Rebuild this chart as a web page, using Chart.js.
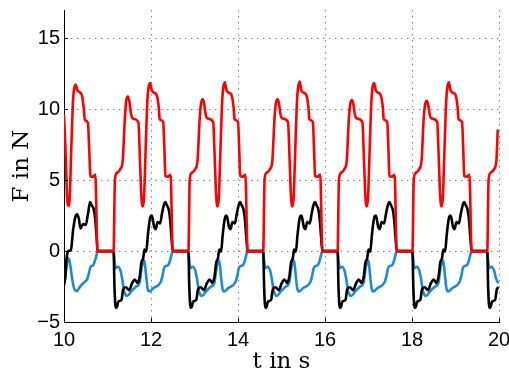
<!DOCTYPE html>
<html>
<head>
<meta charset="utf-8">
<script src="https://cdn.jsdelivr.net/npm/chart.js@4/dist/chart.umd.min.js"></script>
<style>
  html, body { margin: 0; padding: 0; background: #fff; }
  canvas { display: block; }
</style>
</head>
<body>
<canvas id="fuerzas" width="509" height="376"></canvas>
<script>
// Ejes
const xTicks = [10, 12, 14, 16, 18, 20];
const yTicks = [-5, 0, 5, 10, 15];
const xRange = [10, 20];
const yRange = [-5, 17];

// Fuerza roja [t, F]
const redLine = [
  [10.00, 9.6], [10.03, 7.5], [10.06, 4.6], [10.08, 3.4], [10.10, 3.2], [10.13, 3.7], [10.16, 6.5], [10.20, 10.2],
  [10.23, 11.4], [10.27, 11.75], [10.30, 11.4], [10.34, 11.25], [10.41, 11.0], [10.45, 10.2], [10.48, 9.25],
  [10.55, 9.05], [10.58, 7.1], [10.61, 5.25], [10.67, 5.25], [10.72, 5.4], [10.77, 0],
  [11.14, 0], [11.17, 5.0], [11.21, 5.5], [11.30, 5.8], [11.35, 6.4], [11.40, 9.4], [11.43, 10.6], [11.47, 10.9],
  [11.50, 10.6], [11.54, 9.7], [11.58, 9.35], [11.71, 9.1], [11.74, 7.0], [11.77, 4.4], [11.79, 3.4], [11.81, 3.15],
  [11.84, 3.8], [11.87, 6.5], [11.91, 10.2], [11.94, 11.5], [11.98, 11.85], [12.01, 11.4], [12.05, 11.2], [12.13, 11.0],
  [12.18, 10.1], [12.20, 9.3], [12.28, 9.1], [12.31, 7.0], [12.33, 5.3], [12.39, 5.25], [12.45, 5.4], [12.50, 0],
  [12.86, 0], [12.89, 5.0], [12.93, 5.5], [13.02, 5.8], [13.07, 6.4], [13.12, 9.4], [13.15, 10.4], [13.19, 10.7],
  [13.22, 10.45], [13.26, 9.6], [13.30, 9.35], [13.43, 9.1], [13.46, 7.0], [13.49, 4.4], [13.51, 3.4], [13.53, 3.15],
  [13.56, 3.8], [13.59, 6.5], [13.63, 10.2], [13.66, 11.5], [13.70, 11.9], [13.73, 11.4], [13.77, 11.2], [13.85, 11.0],
  [13.90, 10.1], [13.92, 9.3], [14.00, 9.1], [14.03, 7.0], [14.05, 5.3], [14.11, 5.25], [14.17, 5.4], [14.22, 0],
  [14.58, 0], [14.61, 5.0], [14.65, 5.5], [14.74, 5.8], [14.79, 6.4], [14.84, 9.4], [14.87, 10.4], [14.91, 10.7],
  [14.94, 10.45], [14.98, 9.6], [15.02, 9.35], [15.15, 9.1], [15.18, 7.0], [15.21, 4.4], [15.23, 3.4], [15.25, 3.15],
  [15.28, 3.8], [15.31, 6.5], [15.35, 10.2], [15.38, 11.5], [15.42, 11.95], [15.45, 11.4], [15.49, 11.2], [15.57, 11.0],
  [15.62, 10.1], [15.64, 9.3], [15.72, 9.1], [15.75, 7.0], [15.77, 5.3], [15.83, 5.25], [15.89, 5.4], [15.94, 0],
  [16.29, 0], [16.32, 5.0], [16.36, 5.5], [16.45, 5.8], [16.50, 6.4], [16.55, 9.4], [16.58, 10.35], [16.62, 10.65],
  [16.65, 10.4], [16.69, 9.6], [16.73, 9.35], [16.86, 9.1], [16.89, 7.0], [16.92, 4.4], [16.94, 3.4], [16.96, 3.15],
  [16.99, 3.8], [17.02, 6.5], [17.06, 10.2], [17.09, 11.5], [17.13, 11.85], [17.16, 11.4], [17.20, 11.2], [17.28, 11.0],
  [17.33, 10.1], [17.35, 9.3], [17.43, 9.1], [17.46, 7.0], [17.48, 5.3], [17.54, 5.25], [17.60, 5.4], [17.65, 0],
  [18.01, 0], [18.04, 5.0], [18.08, 5.5], [18.17, 5.8], [18.22, 6.4], [18.27, 9.4], [18.30, 10.3], [18.34, 10.6],
  [18.37, 10.35], [18.41, 9.6], [18.45, 9.35], [18.58, 9.1], [18.61, 7.0], [18.64, 4.4], [18.66, 3.4], [18.68, 3.15],
  [18.71, 3.8], [18.74, 6.5], [18.78, 10.2], [18.81, 11.5], [18.85, 11.9], [18.88, 11.4], [18.92, 11.2], [19.00, 11.0],
  [19.05, 10.1], [19.07, 9.3], [19.15, 9.1], [19.18, 7.0], [19.20, 5.3], [19.26, 5.25], [19.32, 5.4], [19.37, 0],
  [19.73, 0], [19.76, 5.0], [19.80, 5.5], [19.89, 5.8], [19.94, 6.4], [19.97, 8.5]
];

// Fuerza negra [t, F]
const blackLine = [
  [10.00, -2.45], [10.03, -1.8], [10.06, -0.5], [10.10, 0], [10.16, 0.1], [10.21, 1.5], [10.26, 2.4], [10.30, 2.6],
  [10.34, 2.3], [10.38, 1.6], [10.44, 1.9], [10.50, 1.85], [10.55, 2.6], [10.60, 3.45], [10.64, 3.2], [10.68, 3.0],
  [10.72, 2.2], [10.75, 1.0], [10.77, 0],
  [11.14, 0], [11.16, -2.5], [11.19, -4.0], [11.22, -3.9], [11.25, -3.55], [11.32, -3.45], [11.36, -2.7], [11.42, -2.55],
  [11.50, -2.75], [11.56, -2.3], [11.63, -2.0], [11.69, -2.25], [11.74, -1.8], [11.78, -0.8], [11.82, -0.5], [11.85, 0.1],
  [11.89, -0.05], [11.93, 1.2], [11.98, 2.35], [12.02, 2.5], [12.07, 1.75], [12.11, 1.55], [12.15, 2.05], [12.21, 1.95],
  [12.25, 2.6], [12.30, 3.3], [12.33, 3.45], [12.37, 3.2], [12.41, 2.9], [12.44, 2.2], [12.47, 1.0], [12.50, 0],
  [12.86, 0], [12.88, -2.5], [12.91, -4.0], [12.94, -3.9], [12.97, -3.55], [13.04, -3.45], [13.08, -2.7], [13.14, -2.55],
  [13.22, -2.75], [13.28, -2.3], [13.35, -2.0], [13.41, -2.25], [13.46, -1.8], [13.50, -0.8], [13.54, -0.5], [13.57, 0.1],
  [13.61, -0.05], [13.65, 1.2], [13.70, 2.35], [13.74, 2.5], [13.79, 1.75], [13.83, 1.55], [13.87, 2.05], [13.93, 1.95],
  [13.97, 2.6], [14.02, 3.3], [14.05, 3.45], [14.09, 3.2], [14.13, 2.9], [14.16, 2.2], [14.19, 1.0], [14.22, 0],
  [14.58, 0], [14.60, -2.5], [14.63, -4.0], [14.66, -3.9], [14.69, -3.55], [14.76, -3.45], [14.80, -2.7], [14.86, -2.55],
  [14.94, -2.75], [15.00, -2.3], [15.07, -2.0], [15.13, -2.25], [15.18, -1.8], [15.22, -0.8], [15.26, -0.5], [15.29, 0.1],
  [15.33, -0.05], [15.37, 1.2], [15.42, 2.35], [15.46, 2.5], [15.51, 1.75], [15.55, 1.55], [15.59, 2.05], [15.65, 1.95],
  [15.69, 2.6], [15.74, 3.3], [15.77, 3.45], [15.81, 3.2], [15.85, 2.9], [15.88, 2.2], [15.91, 1.0], [15.94, 0],
  [16.29, 0], [16.31, -2.5], [16.34, -4.0], [16.37, -3.9], [16.40, -3.55], [16.47, -3.45], [16.51, -2.7], [16.57, -2.55],
  [16.65, -2.75], [16.71, -2.3], [16.78, -2.0], [16.84, -2.25], [16.89, -1.8], [16.93, -0.8], [16.97, -0.5], [17.00, 0.1],
  [17.04, -0.05], [17.08, 1.2], [17.13, 2.35], [17.17, 2.5], [17.22, 1.75], [17.26, 1.55], [17.30, 2.05], [17.36, 1.95],
  [17.40, 2.6], [17.45, 3.3], [17.48, 3.45], [17.52, 3.2], [17.56, 2.9], [17.59, 2.2], [17.62, 1.0], [17.65, 0],
  [18.01, 0], [18.03, -2.5], [18.06, -4.0], [18.09, -3.9], [18.12, -3.55], [18.19, -3.45], [18.23, -2.7], [18.29, -2.55],
  [18.37, -2.75], [18.43, -2.3], [18.50, -2.0], [18.56, -2.25], [18.61, -1.8], [18.65, -0.8], [18.69, -0.5], [18.72, 0.1],
  [18.76, -0.05], [18.80, 1.2], [18.85, 2.35], [18.89, 2.5], [18.94, 1.75], [18.98, 1.55], [19.02, 2.05], [19.08, 1.95],
  [19.12, 2.6], [19.17, 3.3], [19.20, 3.45], [19.24, 3.2], [19.28, 2.9], [19.31, 2.2], [19.34, 1.0], [19.37, 0],
  [19.73, 0], [19.75, -2.5], [19.78, -4.0], [19.81, -3.9], [19.84, -3.55], [19.91, -3.45], [19.95, -2.7], [19.97, -2.6]
];

// Fuerza azul [t, F]
const blueLine = [
  [10.00, -2.3], [10.03, -1.8], [10.05, -1.3], [10.09, -0.5], [10.12, -0.6], [10.15, -1.1], [10.18, -1.8], [10.23, -2.6],
  [10.29, -2.82], [10.37, -2.5], [10.48, -2.15], [10.53, -2.0], [10.57, -1.6], [10.61, -1.1], [10.67, -1.0], [10.71, -0.7],
  [10.74, -0.4], [10.77, 0],
  [11.14, 0], [11.16, -0.7], [11.19, -1.2], [11.24, -1.1], [11.30, -1.4], [11.34, -2.0], [11.38, -2.8], [11.42, -3.1],
  [11.46, -3.15], [11.54, -2.85], [11.66, -2.5], [11.74, -2.2], [11.78, -1.3], [11.82, -0.7], [11.84, -0.65], [11.86, -0.9],
  [11.89, -1.8], [11.92, -2.6], [11.96, -2.85], [12.06, -2.6], [12.22, -2.2], [12.26, -1.8], [12.30, -1.2], [12.34, -1.05],
  [12.39, -1.0], [12.43, -0.75], [12.46, -0.4], [12.50, 0],
  [12.86, 0], [12.88, -0.7], [12.91, -1.2], [12.96, -1.1], [13.02, -1.4], [13.06, -2.0], [13.10, -2.8], [13.14, -3.1],
  [13.18, -3.15], [13.26, -2.85], [13.38, -2.5], [13.46, -2.2], [13.50, -1.3], [13.54, -0.7], [13.56, -0.65], [13.58, -0.9],
  [13.61, -1.8], [13.64, -2.6], [13.68, -2.85], [13.78, -2.6], [13.94, -2.2], [13.98, -1.8], [14.02, -1.2], [14.06, -1.05],
  [14.11, -1.0], [14.15, -0.75], [14.18, -0.4], [14.22, 0],
  [14.58, 0], [14.60, -0.7], [14.63, -1.2], [14.68, -1.1], [14.74, -1.4], [14.78, -2.0], [14.82, -2.8], [14.86, -3.1],
  [14.90, -3.15], [14.98, -2.85], [15.10, -2.5], [15.18, -2.2], [15.22, -1.3], [15.26, -0.7], [15.28, -0.65], [15.30, -0.9],
  [15.33, -1.8], [15.36, -2.6], [15.40, -2.85], [15.50, -2.6], [15.66, -2.2], [15.70, -1.8], [15.74, -1.2], [15.78, -1.05],
  [15.83, -1.0], [15.87, -0.75], [15.90, -0.4], [15.94, 0],
  [16.29, 0], [16.31, -0.7], [16.34, -1.2], [16.39, -1.1], [16.45, -1.4], [16.49, -2.0], [16.53, -2.8], [16.57, -3.1],
  [16.61, -3.15], [16.69, -2.85], [16.81, -2.5], [16.89, -2.2], [16.93, -1.3], [16.97, -0.7], [16.99, -0.65], [17.01, -0.9],
  [17.04, -1.8], [17.07, -2.6], [17.11, -2.85], [17.21, -2.6], [17.37, -2.2], [17.41, -1.8], [17.45, -1.2], [17.49, -1.05],
  [17.54, -1.0], [17.58, -0.75], [17.61, -0.4], [17.65, 0],
  [18.01, 0], [18.03, -0.7], [18.06, -1.2], [18.11, -1.1], [18.17, -1.4], [18.21, -2.0], [18.25, -2.8], [18.29, -3.1],
  [18.33, -3.15], [18.41, -2.85], [18.53, -2.5], [18.61, -2.2], [18.65, -1.3], [18.69, -0.7], [18.71, -0.65], [18.73, -0.9],
  [18.76, -1.8], [18.79, -2.6], [18.83, -2.85], [18.93, -2.6], [19.09, -2.2], [19.13, -1.8], [19.17, -1.2], [19.21, -1.05],
  [19.26, -1.0], [19.30, -0.75], [19.33, -0.4], [19.37, 0],
  [19.73, 0], [19.75, -0.7], [19.78, -1.2], [19.83, -1.1], [19.89, -1.4], [19.93, -1.9], [19.97, -2.2]
];

const toPoints = arr => arr.map(p => ({x: p[0], y: p[1]}));

// Marcas de eje hacia dentro (estilo MATLAB)
const innerTicks = {
  id: 'innerTicks',
  afterDatasetsDraw(chart) {
    const {ctx, chartArea, scales} = chart;
    ctx.save();
    ctx.strokeStyle = '#000';
    ctx.lineWidth = 1;
    ctx.beginPath();
    xTicks.forEach(v => {
      const x = Math.round(scales.x.getPixelForValue(v)) + 0.5;
      ctx.moveTo(x, chartArea.bottom);
      ctx.lineTo(x, chartArea.bottom - 4);
    });
    yTicks.forEach(v => {
      const y = Math.round(scales.y.getPixelForValue(v)) + 0.5;
      ctx.moveTo(chartArea.left, y);
      ctx.lineTo(chartArea.left + 4, y);
    });
    ctx.stroke();
    ctx.restore();
  }
};

const tickFont = {family: 'Liberation Sans, Arial, sans-serif', size: 20};
const titleFont = {family: 'DejaVu Serif, serif', size: 23};
const gridDots = {color: 'rgba(0,0,0,0.5)', lineWidth: 1, drawTicks: false};
const minus = v => String(v).replace('-', '\u2212');

const ctx = document.getElementById('fuerzas').getContext('2d');
window.fuerzasChart = new Chart(ctx, {
  type: 'line',
  data: {
    datasets: [
      {data: toPoints(redLine), borderColor: '#ff0000', borderWidth: 2.6},
      {data: toPoints(blackLine), borderColor: '#000000', borderWidth: 2.6},
      {data: toPoints(blueLine), borderColor: '#1c8bd0', borderWidth: 2.6}
    ]
  },
  options: {
    responsive: false,
    animation: false,
    layout: {padding: {top: 10, right: 10, left: 0, bottom: 0}},
    elements: {
      point: {radius: 0},
      line: {cubicInterpolationMode: 'monotone', fill: false, borderJoinStyle: 'round', borderCapStyle: 'round'}
    },
    plugins: {legend: {display: false}, tooltip: {enabled: false}},
    scales: {
      x: {
        type: 'linear',
        min: xRange[0],
        max: xRange[1],
        afterBuildTicks: s => { s.ticks = xTicks.map(v => ({value: v})); },
        afterFit: s => { s.height = 54; s.paddingLeft = 0; s.paddingRight = 0; },
        ticks: {font: tickFont, color: '#000', padding: 6, maxRotation: 0, callback: minus},
        grid: gridDots,
        border: {display: true, color: '#000', width: 1, dash: [1.5, 4.5]},
        title: {display: true, text: 't in s', font: titleFont, color: '#000', padding: {top: 0, bottom: 0}}
      },
      y: {
        type: 'linear',
        min: yRange[0],
        max: yRange[1],
        afterBuildTicks: s => { s.ticks = yTicks.map(v => ({value: v})); },
        afterFit: s => { s.width = 64; s.paddingTop = 0; s.paddingBottom = 0; },
        ticks: {font: tickFont, color: '#000', padding: 4, callback: minus},
        grid: gridDots,
        border: {display: true, color: '#000', width: 1, dash: [1.5, 4.5]},
        title: {display: true, text: 'F in N', font: titleFont, color: '#000', padding: {top: 8, bottom: 0}}
      }
    }
  },
  plugins: [innerTicks]
});
</script>
</body>
</html>
